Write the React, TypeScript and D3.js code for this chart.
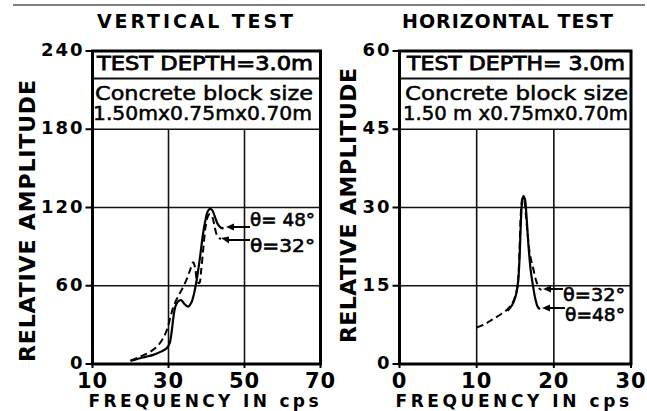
import React from "react";
import * as d3 from "d3";

// ---------- DATA ----------
const VERT_X_TICKS = [10, 30, 50, 70];
const VERT_Y_TICKS = [0, 60, 120, 180, 240];
const HORIZ_X_TICKS = [0, 10, 20, 30];
const HORIZ_Y_TICKS = [0, 15, 30, 45, 60];

// Vertical test, theta = 48 deg (solid)
const vert48: [number, number][] = [
  [20, 2.5], [22, 4], [24, 5.5], [26, 7], [28, 9.5], [29.5, 12], [30.3, 16], [30.8, 24],
  [31.3, 36], [31.8, 44], [32.5, 48], [33.3, 49], [34.2, 46], [35.2, 44], [36, 47],
  [36.8, 55], [37.5, 66], [38.3, 82], [39, 98], [39.7, 110], [40.3, 117], [40.9, 119],
  [41.5, 118], [42.2, 113], [43, 107], [43.8, 104.5], [44.5, 104],
];
// Vertical test, theta = 32 deg (dashed)
const vert32: [number, number][] = [
  [20, 2.5], [22, 5], [24, 7.5], [26, 11], [27.5, 15], [28.8, 21], [29.8, 28], [30.5, 36],
  [31.2, 43], [32.2, 50], [33.5, 57], [34.8, 65], [35.8, 73], [36.5, 78], [37, 74],
  [37.6, 63], [38.1, 62], [38.6, 72], [39.2, 90], [39.8, 106], [40.4, 113.5], [40.9, 115],
  [41.5, 113], [42.1, 106], [42.7, 99], [43.3, 96.5], [43.8, 96],
];
// Horizontal test, theta = 32 deg (dashed)
const horiz32: [number, number][] = [
  [10, 7], [11, 7.6], [12, 8.5], [13, 9.4], [14, 10.5], [14.6, 11.6], [15, 13], [15.3, 15],
  [15.45, 18], [15.6, 24], [15.75, 29.5], [15.95, 31.8], [16.15, 31.5], [16.35, 29],
  [16.6, 25], [16.9, 21], [17.3, 18.5], [17.7, 16], [18.1, 14.5], [18.4, 14.2],
];
// Horizontal test, theta = 48 deg (solid)
const horiz48: [number, number][] = [
  [14, 10.2], [14.6, 11.3], [15.05, 13], [15.35, 15.5], [15.55, 20], [15.7, 26],
  [15.85, 30.5], [16.05, 32.2], [16.25, 31.6], [16.45, 28.5], [16.7, 23], [17.0, 18],
  [17.3, 15], [17.6, 12.5], [17.9, 11], [18.2, 10.5],
];

const FONT = "'DejaVu Sans', sans-serif";

type PanelProps = {
  title: string;
  titleX: [number, number];
  xDomain: [number, number];
  xRange: [number, number];
  yDomain: [number, number];
  xTicks: number[];
  yTicks: number[];
  solid: [number, number][];
  dashed: [number, number][];
  ylabelX: number;
  ylabelSpan: [number, number];
  boxTexts: { t: string; x: [number, number]; y: number }[];
  labels: { t: string; tip: [number, number]; x: [number, number]; lineY: number; y: number }[];
};

const Y_RANGE: [number, number] = [364, 51];

function Panel(p: PanelProps) {
  const x = d3.scaleLinear().domain(p.xDomain).range(p.xRange);
  const y = d3.scaleLinear().domain(p.yDomain).range(Y_RANGE);
  const line = d3
    .line<[number, number]>()
    .x((d) => x(d[0]))
    .y((d) => y(d[1]))
    .curve(d3.curveCatmullRom.alpha(0.5));
  const [x0, x1] = p.xRange;
  const [yb, yt] = Y_RANGE;
  const boxBottom = y(p.yTicks[3]);
  const row1 = 78.5;
  return (
    <g>
      <text
        x={p.titleX[0]}
        y={28}
        fontFamily={FONT}
        fontWeight="bold"
        fontSize={19}
        textLength={p.titleX[1] - p.titleX[0]}
        lengthAdjust="spacing"
      >
        {p.title}
      </text>
      {/* grid */}
      {p.xTicks.slice(1, -1).map((t) => (
        <line key={"gx" + t} x1={x(t)} x2={x(t)} y1={yb} y2={boxBottom} stroke="#111" strokeWidth={1.6} />
      ))}
      {p.yTicks.slice(1, -1).map((t) => (
        <line key={"gy" + t} x1={x0} x2={x1} y1={y(t)} y2={y(t)} stroke="#111" strokeWidth={1.6} />
      ))}
      <line x1={x0} x2={x1} y1={row1} y2={row1} stroke="#111" strokeWidth={2} />
      {/* frame */}
      <rect x={x0} y={yt} width={x1 - x0} height={yb - yt} fill="none" stroke="#000" strokeWidth={3} />
      {/* y ticks */}
      {p.yTicks.map((t) => (
        <g key={"yt" + t}>
          <line x1={x0 - 7} x2={x0} y1={y(t)} y2={y(t)} stroke="#000" strokeWidth={2} />
          <text
            x={x0 - 8}
            y={y(t) + 5}
            textAnchor="end"
            fontFamily={FONT}
            fontWeight="bold"
            fontSize={18}
            letterSpacing={2}
          >
            {t}
          </text>
        </g>
      ))}
      {/* x ticks */}
      {p.xTicks.map((t) => (
        <g key={"xt" + t}>
          <line x1={x(t)} x2={x(t)} y1={yb} y2={yb + 4} stroke="#000" strokeWidth={2} />
          <text
            x={x(t)}
            y={388}
            textAnchor="middle"
            fontFamily={FONT}
            fontWeight="bold"
            fontSize={21}
            letterSpacing={1}
          >
            {t}
          </text>
        </g>
      ))}
      <text
        x={x0 - 4}
        y={407}
        fontFamily={FONT}
        fontWeight="bold"
        fontSize={17}
        textLength={x1 - x0 + 2}
        lengthAdjust="spacing"
      >
        FREQUENCY IN cps
      </text>
      <text
        transform={`translate(${p.ylabelX},${p.ylabelSpan[1]}) rotate(-90)`}
        fontFamily={FONT}
        fontWeight="bold"
        fontSize={22}
        textLength={p.ylabelSpan[1] - p.ylabelSpan[0]}
        lengthAdjust="spacing"
      >
        RELATIVE AMPLITUDE
      </text>
      {/* box texts */}
      {p.boxTexts.map((b, i) => (
        <text
          key={"bt" + i}
          x={b.x[0]}
          y={b.y}
          fontFamily={FONT}
          fontWeight="normal"
          fontSize={19}
          stroke="#000"
          strokeWidth={i === 0 ? 0.8 : 0.5}
          textLength={b.x[1] - b.x[0]}
          lengthAdjust="spacingAndGlyphs"
        >
          {b.t}
        </text>
      ))}
      {/* curves */}
      <path d={line(p.dashed) || ""} fill="none" stroke="#000" strokeWidth={2} strokeDasharray="7,4" />
      <path d={line(p.solid) || ""} fill="none" stroke="#000" strokeWidth={2.2} />
      {/* labels with arrows */}
      {p.labels.map((l, i) => (
        <g key={"lb" + i}>
          <line x1={l.tip[0] + 4} x2={l.x[0]} y1={l.lineY} y2={l.lineY} stroke="#000" strokeWidth={2} />
          <path
            d={`M${l.tip[0]},${l.tip[1]} L${l.tip[0] + 8},${l.lineY - 3.5} L${l.tip[0] + 8},${l.lineY + 3.5} Z`}
            fill="#000"
          />
          <text
            x={l.x[0]}
            y={l.y}
            fontFamily={FONT}
            fontSize={18}
            stroke="#000"
            strokeWidth={0.6}
            textLength={l.x[1] - l.x[0]}
            lengthAdjust="spacingAndGlyphs"
          >
            {l.t}
          </text>
        </g>
      ))}
    </g>
  );
}

export default function App() {
  return (
    <svg
      width={647}
      height={411}
      style={{ position: "absolute", left: 0, top: 0, background: "#fff" }}
    >
      <rect width={647} height={411} fill="#fff" />
      <line x1={13} x2={645} y1={5} y2={5} stroke="#555" strokeWidth={1.5} />
      <Panel
        title="VERTICAL  TEST"
        titleX={[97, 293]}
        xDomain={[10, 70]}
        xRange={[92.5, 320.5]}
        yDomain={[0, 240]}
        xTicks={VERT_X_TICKS}
        yTicks={VERT_Y_TICKS}
        solid={vert48}
        dashed={vert32}
        ylabelX={35}
        ylabelSpan={[80, 362]}
        boxTexts={[
          { t: "TEST DEPTH=3.0m", x: [97, 313], y: 70 },
          { t: "Concrete block size", x: [95, 313], y: 100 },
          { t: "1.50mx0.75mx0.70m", x: [93, 312], y: 120 },
        ]}
        labels={[
          { t: "θ= 48°", tip: [226, 227], x: [250, 315], lineY: 227, y: 226 },
          { t: "θ=32°", tip: [221, 238], x: [250, 315], lineY: 240, y: 252 },
        ]}
      />
      <Panel
        title="HORIZONTAL TEST"
        titleX={[402, 613]}
        xDomain={[0, 30]}
        xRange={[399.5, 631]}
        yDomain={[0, 60]}
        xTicks={HORIZ_X_TICKS}
        yTicks={HORIZ_Y_TICKS}
        solid={horiz48}
        dashed={horiz32}
        ylabelX={356}
        ylabelSpan={[68, 343]}
        boxTexts={[
          { t: "TEST DEPTH= 3.0m", x: [407, 625], y: 70 },
          { t: "Concrete block size", x: [405, 628], y: 100 },
          { t: "1.50 m x0.75mx0.70m", x: [403, 628], y: 120 },
        ]}
        labels={[
          { t: "θ=32°", tip: [543, 289], x: [563, 625], lineY: 289, y: 301 },
          { t: "θ=48°", tip: [542, 308], x: [565, 625], lineY: 308, y: 321 },
        ]}
      />
    </svg>
  );
}
